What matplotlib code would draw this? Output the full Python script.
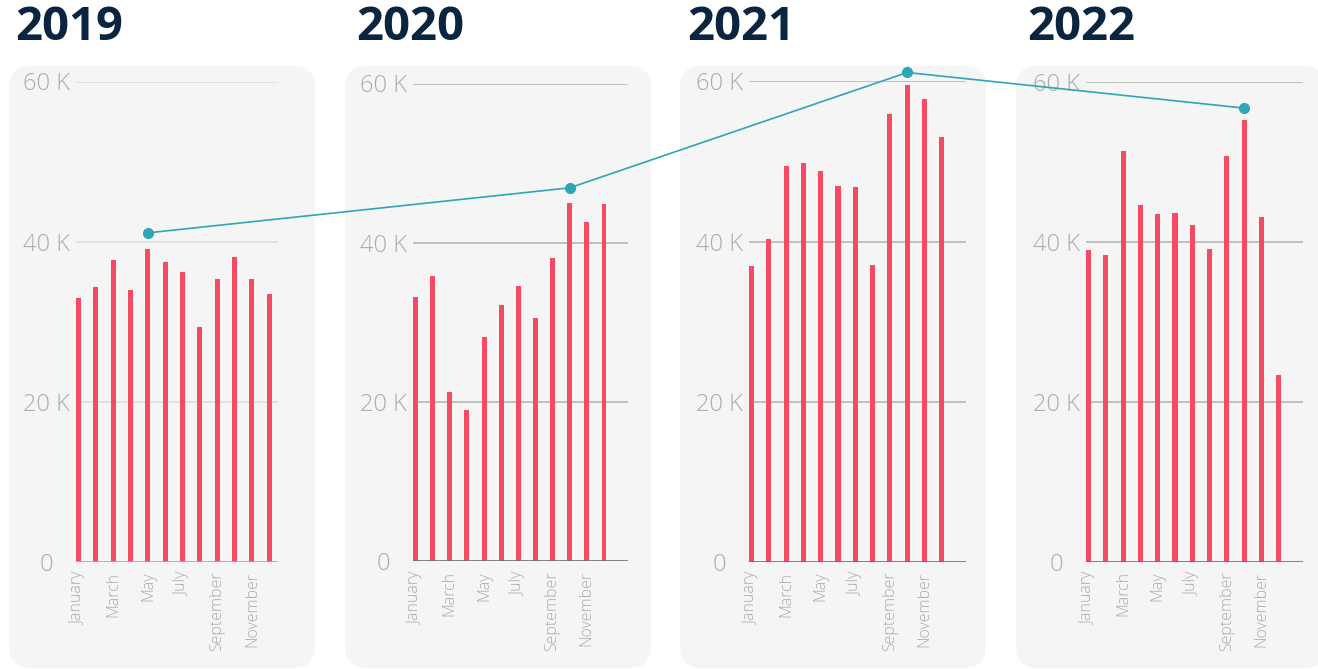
import matplotlib
matplotlib.use("Agg")
import matplotlib.pyplot as plt
from matplotlib.patches import FancyBboxPatch
from matplotlib.ticker import FuncFormatter
import numpy as np

plt.rcParams["font.family"] = ["Open Sans", "DejaVu Sans"]

# monthly values per year
months = ["January", "February", "March", "April", "May", "June", "July",
          "August", "September", "October", "November", "December"]
years = ["2019", "2020", "2021", "2022"]
sales_2019 = [33000, 34400, 37700, 34000, 39100, 37500, 36200, 29300, 35300, 38100, 35400, 33500]
sales_2020 = [33200, 35800, 21200, 19000, 28200, 32200, 34600, 30600, 38100, 45000, 42600, 44900]
sales_2021 = [36900, 40300, 49400, 49800, 48800, 46900, 46800, 37100, 55900, 59600, 57800, 53000]
sales_2022 = [38900, 38400, 51300, 44600, 43500, 43600, 42100, 39100, 50700, 55200, 43100, 23400]
# yearly trend marker, placed over each year's best month
trend_values = [41100, 46900, 61100, 56700]

W, H = 1318, 669
BAR = "#F54A62"
TEAL = "#2EA6B7"
NAVY = "#0B2440"
TICK = "#ABABAB"

fig = plt.figure(figsize=(W / 100, H / 100), dpi=100)

# pixel-space background layer for the rounded cards
bg = fig.add_axes([0, 0, 1, 1], zorder=0)
bg.set_xlim(0, W)
bg.set_ylim(H, 0)
bg.axis("off")

cards = [(9, 66, 306, 602), (345, 66, 306, 602), (680, 66, 306, 602), (1016, 66, 310, 602)]
for x0, y0, w, h in cards:
    bg.add_patch(FancyBboxPatch((x0, y0), w, h, boxstyle="round,pad=0,rounding_size=22",
                                facecolor="#F5F5F5", edgecolor="none"))

# axes boxes in pixels: left, right, top (60 K), bottom (0)
boxes = [(76, 278, 81.5, 562), (413, 628, 83.5, 561.3), (749, 966, 81.3, 562), (1086, 1303, 81.7, 561.7)]
xmax = [11.5, 12.4, 12.4, 12.4]
grid_colors = ["#DCDCDC", "#B2B2B2", "#B2B2B2", "#B2B2B2"]
base_colors = ["#A8A8A8", "#6E6E6E", "#6E6E6E", "#6E6E6E"]
title_x = [15, 356, 687, 1027]

series = [sales_2019, sales_2020, sales_2021, sales_2022]
x = np.arange(len(months))
kfmt = FuncFormatter(lambda v, p: "0" if v == 0 else f"{int(v / 1000)} K")

axes = []
for i, vals in enumerate(series):
    l, r, t, b = boxes[i]
    ax = fig.add_axes([l / W, 1 - b / H, (r - l) / W, (b - t) / H], zorder=1)
    ax.set_facecolor("none")
    ax.bar(x, vals, width=0.29, color=BAR, zorder=2)
    ax.set_xlim(-0.145, xmax[i])
    ax.set_ylim(0, 60000)
    ax.set_yticks([0, 20000, 40000, 60000])
    ax.yaxis.set_major_formatter(kfmt)
    for yv in [20000, 40000, 60000]:
        ax.axhline(yv, color=grid_colors[i], lw=1.1, zorder=1)
    ax.axhline(0, color=base_colors[i], lw=1.2, zorder=3)
    ax.set_xticks(x[::2])
    ax.set_xticklabels(months[::2], rotation=90, fontsize=11.5, color=TICK, fontweight="light")
    ax.tick_params(axis="x", length=0, pad=7)
    ax.tick_params(axis="y", length=0, pad=21, labelsize=17, labelcolor=TICK)
    for lab in ax.get_yticklabels():
        lab.set_horizontalalignment("center")
        lab.set_fontweight("light")
    for s in ax.spines.values():
        s.set_visible(False)
    fig.text(title_x[i] / W, 1 - 4 / H, years[i], fontsize=34, fontweight="bold",
             color=NAVY, ha="left", va="top")
    axes.append(ax)

# trend line drawn over all cards
top = fig.add_axes([0, 0, 1, 1], zorder=3)
top.set_xlim(0, W)
top.set_ylim(H, 0)
top.axis("off")
pts = []
for ax, vals, tv in zip(axes, series, trend_values):
    disp = ax.transData.transform((int(np.argmax(vals)), tv))
    pts.append(top.transData.inverted().transform(disp))
pts = np.array(pts)
top.plot(pts[:, 0], pts[:, 1], color=TEAL, lw=1.2, marker="o", markersize=7, clip_on=False)

fig.savefig("out.png", dpi=100)
